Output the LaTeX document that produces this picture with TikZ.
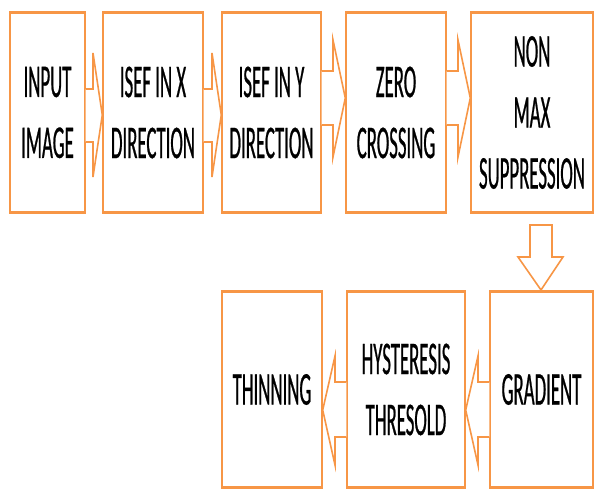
\documentclass[tikz,border=0pt]{standalone}
\usepackage{fontspec}
\newfontfamily\condfont[FakeStretch=0.4,FakeBold=0.5]{Carlito}
\definecolor{orng}{RGB}{247,150,70}
\tikzset{
  box/.style={draw=orng, line width=1.4pt, fill=white, inner sep=0pt,
    font=\condfont\fontsize{47}{61}\selectfont, align=center, text=black},
  edgebar/.style={draw=orng, line width=3.5pt},
  barrow/.style={draw=orng, line width=1.6pt, fill=white, line join=miter}
}
\begin{document}
\begin{tikzpicture}[x=1pt,y=-1pt]
\useasboundingbox (0,0) rectangle (595,488);
% top row
\node[box, minimum width=75pt, minimum height=199pt] (b1) at (47.5,112.5) {INPUT\\IMAGE};
\node[box, minimum width=100pt, minimum height=199pt] (b2) at (153,112.5) {ISEF IN X\\DIRECTION};
\node[box, minimum width=99pt, minimum height=199pt] (b3) at (271.5,112.5) {ISEF IN Y\\DIRECTION};
\node[box, minimum width=100pt, minimum height=199pt] (b4) at (396,112.5) {ZERO\\CROSSING};
\node[box, minimum width=122pt, minimum height=199pt] (b5) at (532,112.5) {NON\\MAX\\SUPPRESSION};
% bottom row
\node[box, minimum width=100pt, minimum height=195pt] (b6) at (272,389.5) {THINNING};
\node[box, minimum width=118pt, minimum height=195pt] (b7) at (406,389.5) {HYSTERESIS\\THRESOLD};
\node[box, minimum width=103pt, minimum height=195pt] (b8) at (541.5,389.5) {GRADIENT};
\foreach \n in {b1,b2,b3,b4,b5,b6,b7,b8}{
  \draw[edgebar] (\n.north west) -- (\n.north east);
  \draw[edgebar, line width=2.6pt] (\n.south west) -- (\n.south east);
}
% right block arrows (top row)
\draw[barrow] (b1.east |- 0,89) -- (93,89) -- (93,53) -- (b2.west |- 0,115) -- (93,177) -- (93,142) -- (b1.east |- 0,142);
\draw[barrow] (b2.east |- 0,89) -- (212,89) -- (212,53) -- (b3.west |- 0,115) -- (212,177) -- (212,142) -- (b2.east |- 0,142);
\draw[barrow] (b3.east |- 0,71) -- (333,71) -- (333,40) -- (b4.west |- 0,98) -- (333,157) -- (333,125) -- (b3.east |- 0,125);
\draw[barrow] (b4.east |- 0,71) -- (458,71) -- (458,40) -- (b5.west |- 0,98) -- (458,157) -- (458,125) -- (b4.east |- 0,125);
% down arrow
\draw[barrow] (530,225) -- (552,225) -- (552,257) -- (563,257) -- (541,290) -- (518,257) -- (530,257) -- cycle;
% left block arrows (bottom row)
\draw[barrow] (b8.west |- 0,382) -- (478,382) -- (478,356) -- (b7.east |- 0,410) -- (478,465) -- (478,437) -- (b8.west |- 0,437);
\draw[barrow] (b7.west |- 0,382) -- (335,382) -- (335,356) -- (b6.east |- 0,410) -- (335,465) -- (335,437) -- (b7.west |- 0,437);
\end{tikzpicture}
\end{document}
